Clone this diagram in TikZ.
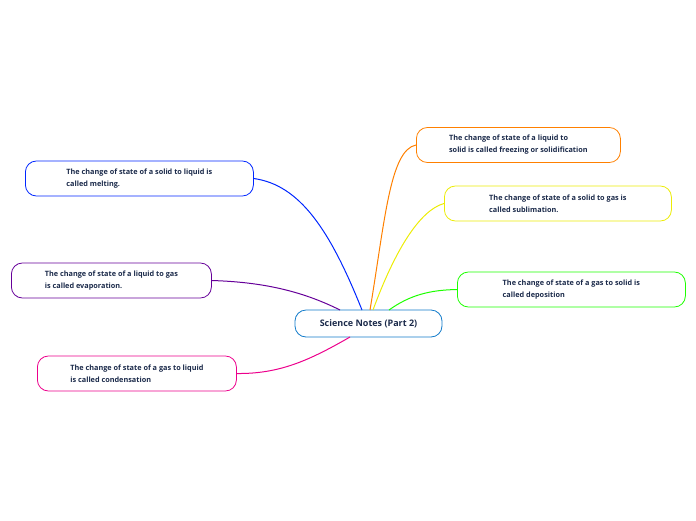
\documentclass[tikz,border=0pt]{standalone}
\usepackage{fontspec}
\setmainfont{Open Sans}
\definecolor{txt}{HTML}{1B2A4A}
\begin{document}
\begin{tikzpicture}[x=1pt,y=-1pt,
  leaf/.style={draw,line width=0.8pt,rounded corners=11pt,minimum height=35pt,inner xsep=19pt,anchor=west,align=left,font=\fontsize{7.3}{12}\selectfont\bfseries,text=txt},
  conn/.style={line width=1pt}]
\useasboundingbox (0,0) rectangle (696,520);
\node[draw=cyan!60!blue,line width=0.8pt,rounded corners=11pt,minimum width=147pt,minimum height=27pt,font=\fontsize{9}{11}\selectfont\bfseries,text=txt] (c) at (368.5,323.5) {Science Notes (Part 2)};
\node[leaf,draw=blue!85!cyan,minimum width=228pt] (a) at (25,178.5) {The change of state of a solid to liquid is\\called melting.};
\node[leaf,draw=violet!80!blue,minimum width=200pt] (b) at (11,280.5) {The change of state of a liquid to gas\\is called evaporation.};
\node[leaf,draw=magenta,minimum width=199pt] (d) at (37,373.5) {The change of state of a gas to liquid\\is called condensation};
\node[leaf,draw=orange,minimum width=204pt] (e) at (416,145) {The change of state of a liquid to\\solid is called freezing or solidification};
\node[leaf,draw=yellow!70!lime,minimum width=227pt] (f) at (444,203.5) {The change of state of a solid to gas is\\called sublimation.};
\node[leaf,draw=green!85!lime,minimum width=228pt] (g) at (457,289.5) {The change of state of a gas to solid is\\called deposition};
\draw[conn,blue!85!cyan] (362,310) .. controls (330,230) and (300,185) .. (a.east);
\draw[conn,violet!80!blue] (340,310) .. controls (300,290) and (260,282) .. (b.east);
\draw[conn,magenta] (350,337) .. controls (310,360) and (280,374) .. (d.east);
\draw[conn,orange] (370,310) .. controls (385,220) and (390,150) .. (e.west);
\draw[conn,yellow!70!lime] (373,310) .. controls (395,250) and (420,210) .. (f.west);
\draw[conn,green!85!lime] (389,310) .. controls (410,295) and (430,290) .. (g.west);
\end{tikzpicture}
\end{document}
